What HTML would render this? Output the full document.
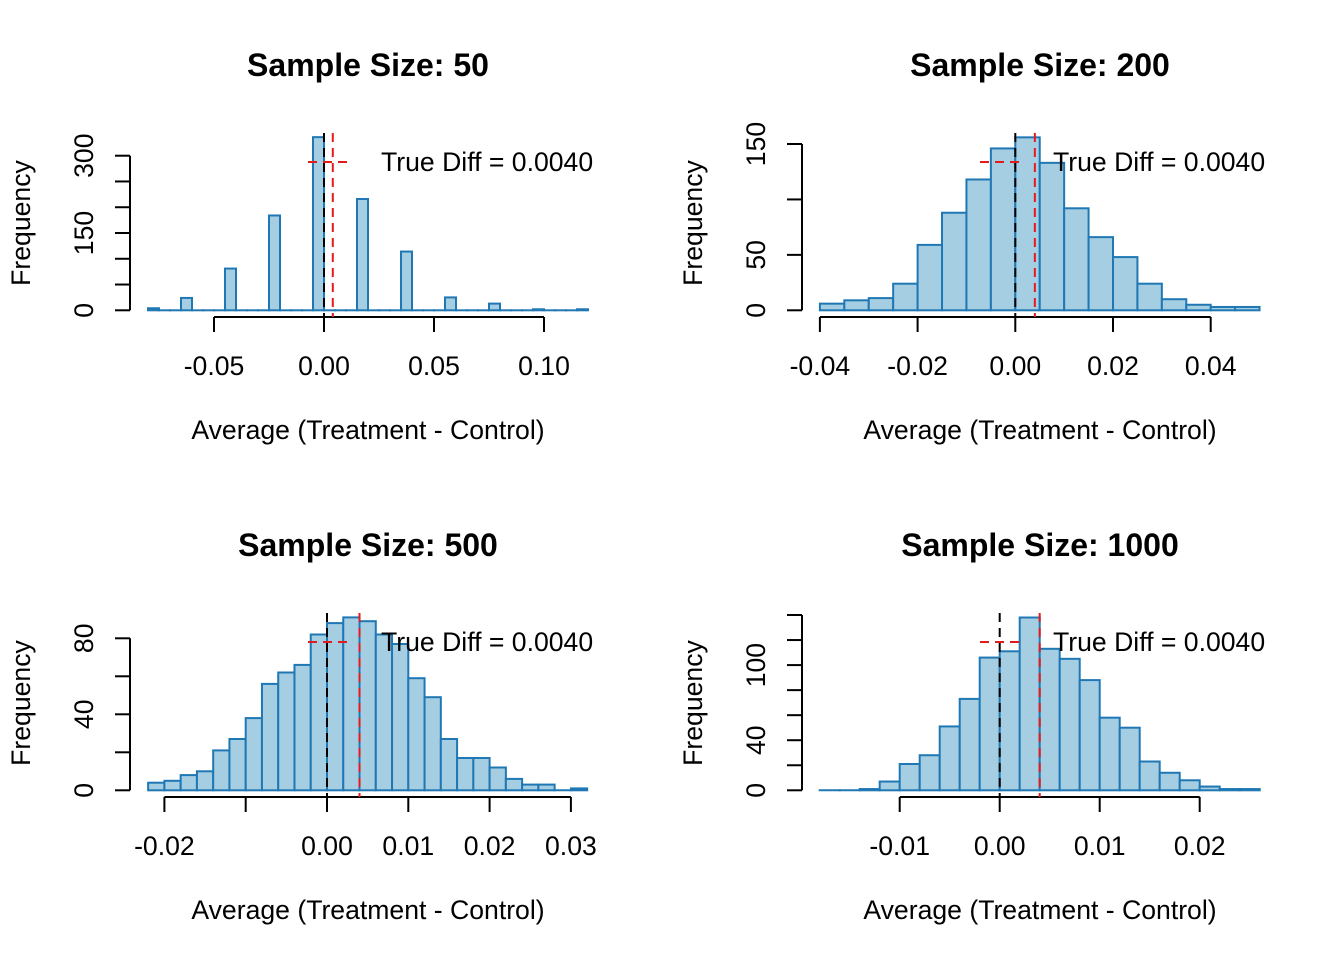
<!DOCTYPE html>
<html><head><meta charset="utf-8"><style>
html,body{margin:0;padding:0;background:#fff}
svg{display:block}
text{font-family:"Liberation Sans",Arial,sans-serif;fill:#000}
</style></head><body>
<svg id="chart" width="1344" height="960" viewBox="0 0 1344 960" xmlns="http://www.w3.org/2000/svg"></svg>
<script>
// Panel 1 (n=50)
const p1Start = -0.08, p1Width = 0.005;
const p1Counts = [4,0,0,24,0,0,0,81,0,0,0,184,0,0,0,336,0,0,0,216,0,0,0,114,0,0,0,25,0,0,0,13,0,0,0,2,0,0,0,2];
const p1XTicks = [-0.05,0,0.05,0.10];
const p1XLabels = ["-0.05","0.00","0.05","0.10"];
const p1YTicks = [0,50,100,150,200,250,300];
const p1YLabels = {0:"0",150:"150",300:"300"};
// Panel 2 (n=200)
const p2Start = -0.04, p2Width = 0.005;
const p2Counts = [6,9,11,24,59,88,118,146,156,133,92,66,48,24,10,5,3,3];
const p2XTicks = [-0.04,-0.02,0,0.02,0.04];
const p2XLabels = ["-0.04","-0.02","0.00","0.02","0.04"];
const p2YTicks = [0,50,100,150];
const p2YLabels = {0:"0",50:"50",150:"150"};
// Panel 3 (n=500)
const p3Start = -0.022, p3Width = 0.002;
const p3Counts = [4,5,8,10,21,27,38,56,62,66,82,88,91,89,82,77,59,49,27,17,17,12,6,3,3,0,1];
const p3XTicks = [-0.02,-0.01,0,0.01,0.02,0.03];
const p3XLabels = ["-0.02","","0.00","0.01","0.02","0.03"];
const p3YTicks = [0,20,40,60,80];
const p3YLabels = {0:"0",40:"40",80:"80"};
// Panel 4 (n=1000)
const p4Start = -0.018, p4Width = 0.002;
const p4Counts = [0,0,1,7,21,28,51,73,106,111,138,113,105,88,58,50,23,14,8,3,1,1];
const p4XTicks = [-0.01,0,0.01,0.02];
const p4XLabels = ["-0.01","0.00","0.01","0.02"];
const p4YTicks = [0,20,40,60,80,100,120,140];
const p4YLabels = {0:"0",40:"40",100:"100"};
const trueDiff = 0.004;
const titles = ["Sample Size: 50","Sample Size: 200","Sample Size: 500","Sample Size: 1000"];

const svg = document.getElementById('chart');
const NS = 'http://www.w3.org/2000/svg';
function mk(tag, attrs, parent){const e=document.createElementNS(NS,tag);for(const k in attrs)e.setAttribute(k,attrs[k]);(parent||svg).appendChild(e);return e;}
const FS = 26.6;

const panels = [
 {start:p1Start,w:p1Width,counts:p1Counts,xt:p1XTicks,xl:p1XLabels,yt:p1YTicks,yl:p1YLabels,
  x0:0,x1:0.05,px0:324,px1:434,y0:0,y1:300,py0:310.3,py1:155.7,ox:0,oy:0},
 {start:p2Start,w:p2Width,counts:p2Counts,xt:p2XTicks,xl:p2XLabels,yt:p2YTicks,yl:p2YLabels,
  x0:0,x1:0.02,px0:1015.3,px1:1113,y0:0,y1:150,py0:310.3,py1:144,ox:672,oy:0},
 {start:p3Start,w:p3Width,counts:p3Counts,xt:p3XTicks,xl:p3XLabels,yt:p3YTicks,yl:p3YLabels,
  x0:0,x1:0.01,px0:327,px1:408.3,y0:0,y1:80,py0:790.3,py1:638.3,ox:0,oy:480},
 {start:p4Start,w:p4Width,counts:p4Counts,xt:p4XTicks,xl:p4XLabels,yt:p4YTicks,yl:p4YLabels,
  x0:0,x1:0.01,px0:999.7,px1:1099.7,y0:0,y1:140,py0:790.3,py1:615,ox:672,oy:480}
];

panels.forEach((p,i)=>{
  const g = mk('g',{});
  
  
  const X = v => p.px0 + (v-p.x0)*(p.px1-p.px0)/(p.x1-p.x0);
  const Y = v => p.py0 + (v-p.y0)*(p.py1-p.py0)/(p.y1-p.y0);
  const cx = 368 + p.ox;
  const t = mk('text',{x:cx,y:76+p.oy,'text-anchor':'middle','font-size':32,'font-weight':'bold'},g);
  t.textContent = titles[i];
  
  
  const xt = mk('text',{x:cx,y:439+p.oy,'text-anchor':'middle','font-size':FS},g);
  xt.textContent = 'Average (Treatment - Control)';
  
  
  const yx = 30 + p.ox, yy = 223 + p.oy;
  const yt = mk('text',{x:yx,y:yy,'text-anchor':'middle','font-size':FS,transform:`rotate(-90 ${yx} ${yy})`},g);
  yt.textContent = 'Frequency';
  
  
  // bars
  p.counts.forEach((c,k)=>{
    const a = X(p.start + k*p.w), b = X(p.start + (k+1)*p.w);
    if (c > 0) {
      const r = mk('rect',{x:a,y:Y(c),width:b-a,height:Y(0)-Y(c),fill:'#a6cee3',stroke:'#1f78b4','stroke-width':2},g);
      
      
    } else {
      const r = mk('line',{x1:a-1,x2:b+1,y1:Y(0),y2:Y(0),stroke:'#1f78b4','stroke-width':2},g);
      
      
    }
  });
  // y axis
  const axY = 130 + p.ox;
  const ya = mk('g',{},g);
  
  
  mk('line',{x1:axY,x2:axY,y1:Y(p.yt[0]),y2:Y(p.yt[p.yt.length-1]),stroke:'#000','stroke-width':2},ya);
  p.yt.forEach(v=>{
    mk('line',{x1:axY-15,x2:axY,y1:Y(v),y2:Y(v),stroke:'#000','stroke-width':2},ya);
    if(p.yl[v]!==undefined){
      const lx = 93 + p.ox, ly = Y(v);
      const tl = mk('text',{x:lx,y:ly,'text-anchor':'middle','font-size':FS,transform:`rotate(-90 ${lx} ${ly})`},ya);
      tl.textContent = p.yl[v];
    }
  });
  // x axis
  const axX = 317 + p.oy;
  const xa = mk('g',{},g);
  
  
  mk('line',{x1:X(p.xt[0]),x2:X(p.xt[p.xt.length-1]),y1:axX,y2:axX,stroke:'#000','stroke-width':2},xa);
  p.xt.forEach((v,k)=>{
    mk('line',{x1:X(v),x2:X(v),y1:axX,y2:axX+15,stroke:'#000','stroke-width':2},xa);
    const tl = mk('text',{x:X(v),y:375+p.oy,'text-anchor':'middle','font-size':FS},xa);
    tl.textContent = p.xl[k];
  });
  // reference lines
  const top = 133 + p.oy;
  const z = mk('line',{x1:X(0),x2:X(0),y1:top,y2:axX,stroke:'#000','stroke-width':2,'stroke-dasharray':'9,6'},g);
  
  
  const rl = mk('line',{x1:X(trueDiff),x2:X(trueDiff),y1:top,y2:axX,stroke:'#e41a1c','stroke-width':2,'stroke-dasharray':'9,6'},g);
  
  
  // legend
  const lg = mk('g',{},g);
  
  
  mk('line',{x1:308+p.ox,x2:350+p.ox,y1:162+p.oy,y2:162+p.oy,stroke:'#e41a1c','stroke-width':2,'stroke-dasharray':'9,6'},lg);
  const lt = mk('text',{x:381+p.ox,y:171+p.oy,'font-size':FS},lg);
  lt.textContent = 'True Diff = 0.0040';
});
</script>
</body></html>
